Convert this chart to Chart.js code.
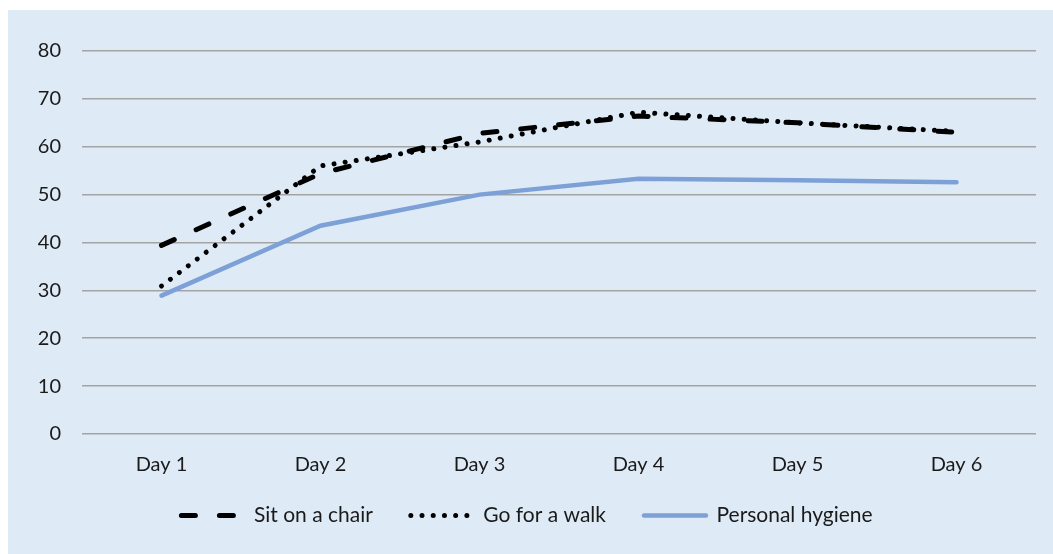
<!DOCTYPE html>
<html>
<head>
<meta charset="utf-8">
<script src="https://cdn.jsdelivr.net/npm/chart.js@4"></script>
<style>
  html, body { margin: 0; padding: 0; background: #ffffff; }
  .panel {
    position: absolute; left: 8px; top: 10px;
    width: 1045px; height: 544px;
    background: #deebf7;
  }
</style>
</head>
<body>
<div class="panel">
  <canvas id="chart" width="1045" height="544"></canvas>
</div>
<script>
const days = ['Day 1', 'Day 2', 'Day 3', 'Day 4', 'Day 5', 'Day 6'];
const sitOnChair = [39.4, 54.4, 62.8, 66.4, 65.0, 63.0];
const goForWalk = [30.9, 56.0, 61.0, 67.2, 65.0, 63.2];
const personalHygiene = [28.9, 43.5, 50.0, 53.3, 53.0, 52.6];

const FONT = { family: 'Lato', size: 20 };
const LEGEND_FONT = { family: 'Lato', size: 21 };
const TEXT = '#1a1a1a';

// legend sits a little closer to the axis labels than chart.js would put it
const legendLift = {
    id: 'legendLift',
    afterLayout(chart) {
        const lg = chart.legend;
        if (!lg) return;
        lg.top -= 17;
        lg.bottom -= 17;
        lg.left += 5;
        lg.right += 5;
    }
};

const ctx = document.getElementById('chart').getContext('2d');
new Chart(ctx, {
    type: 'line',
    data: {
        labels: days,
        datasets: [
            {
                label: 'Sit on a chair',
                data: sitOnChair,
                borderColor: '#000000',
                backgroundColor: '#000000',
                borderWidth: 5,
                borderDash: [14, 24],
                borderCapStyle: 'round',
                pointRadius: 0,
                tension: 0
            },
            {
                label: 'Go for a walk',
                data: goForWalk,
                borderColor: '#000000',
                backgroundColor: '#000000',
                borderWidth: 5,
                borderDash: [0.01, 11.2],
                borderCapStyle: 'round',
                pointRadius: 0,
                tension: 0
            },
            {
                label: 'Personal hygiene',
                data: personalHygiene,
                borderColor: '#7da0d7',
                backgroundColor: '#7da0d7',
                borderWidth: 4.5,
                borderCapStyle: 'round',
                pointRadius: 0,
                tension: 0
            }
        ]
    },
    options: {
        responsive: false,
        animation: false,
        layout: { padding: { left: 0, right: 17, top: 41, bottom: 1 } },
        scales: {
            x: {
                offset: true,
                grid: { display: false },
                border: { display: false },
                ticks: { color: TEXT, font: FONT, padding: 11, maxRotation: 0 },
                afterFit: (scale) => { scale.height = 50; }
            },
            y: {
                min: 0,
                max: 80,
                grid: { color: '#a3a3a3', lineWidth: 1.6, drawTicks: false },
                border: { display: false },
                ticks: { stepSize: 10, color: TEXT, font: FONT, padding: 21 },
                afterFit: (scale) => { scale.width = 74; }
            }
        },
        plugins: {
            legend: {
                position: 'bottom',
                labels: {
                    usePointStyle: true,
                    pointStyle: 'line',
                    pointStyleWidth: 62,
                    color: TEXT,
                    font: LEGEND_FONT,
                    padding: 38,
                    generateLabels: (chart) => {
                        const items = Chart.defaults.plugins.legend.labels.generateLabels(chart);
                        items.forEach((item) => {
                            const ds = chart.data.datasets[item.datasetIndex];
                            item.lineDash = ds.borderDash || [];
                            item.lineCap = ds.borderCapStyle;
                            item.lineWidth = ds.borderWidth;
                        });
                        return items;
                    }
                }
            },
            tooltip: { enabled: false }
        }
    },
    plugins: [legendLift]
});
</script>
</body>
</html>
